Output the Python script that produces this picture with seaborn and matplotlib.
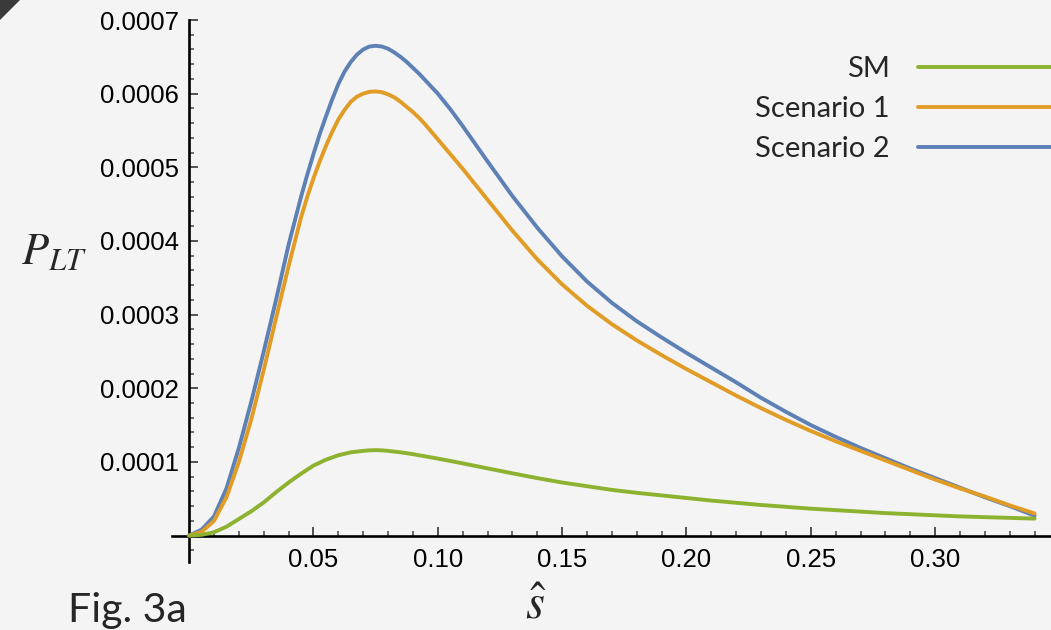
import numpy as np
import pandas as pd
import matplotlib
matplotlib.use("Agg")
import matplotlib.pyplot as plt
from matplotlib.patches import Polygon
from matplotlib.ticker import FixedLocator, MultipleLocator, FormatStrFormatter
import seaborn as sns

# ---- data ----
s_hat = [0, 0.005, 0.01, 0.015, 0.02, 0.025, 0.03, 0.035, 0.04, 0.045,
         0.0475, 0.05, 0.0525, 0.055, 0.0575, 0.06, 0.0625, 0.065, 0.0675,
         0.07, 0.0725, 0.075, 0.0775, 0.08, 0.0825, 0.085, 0.0875, 0.09,
         0.0925, 0.095, 0.0975, 0.10, 0.105, 0.11, 0.12, 0.13, 0.14, 0.15,
         0.16, 0.17, 0.18, 0.19, 0.20, 0.21, 0.22, 0.23, 0.24, 0.25, 0.26,
         0.27, 0.28, 0.29, 0.30, 0.31, 0.32, 0.33, 0.34]

# values in units of 1e-4
p_sm = [0, 0.01, 0.045, 0.12, 0.225, 0.33, 0.45, 0.59, 0.72, 0.84,
        0.895, 0.95, 0.99, 1.03, 1.06, 1.09, 1.11, 1.13, 1.14,
        1.15, 1.157, 1.16, 1.157, 1.15, 1.14, 1.13, 1.118, 1.105,
        1.09, 1.075, 1.06, 1.045, 1.013, 0.98, 0.912, 0.845, 0.78, 0.72,
        0.67, 0.62, 0.58, 0.545, 0.51, 0.475, 0.445, 0.415, 0.39, 0.365, 0.345,
        0.325, 0.305, 0.29, 0.275, 0.26, 0.25, 0.24, 0.23]
p_sc1 = [0, 0.05, 0.20, 0.52, 1.00, 1.58, 2.25, 2.96, 3.66, 4.32,
         4.60, 4.85, 5.08, 5.29, 5.48, 5.65, 5.78, 5.89, 5.96,
         6.00, 6.025, 6.03, 6.02, 5.99, 5.95, 5.89, 5.82, 5.75,
         5.67, 5.58, 5.48, 5.38, 5.18, 4.98, 4.56, 4.14, 3.75, 3.41,
         3.12, 2.87, 2.65, 2.45, 2.26, 2.08, 1.90, 1.73, 1.57, 1.42, 1.28,
         1.15, 1.02, 0.89, 0.76, 0.64, 0.53, 0.41, 0.30]
p_sc2 = [0, 0.08, 0.26, 0.64, 1.19, 1.82, 2.50, 3.21, 3.95, 4.60,
         4.90, 5.18, 5.45, 5.69, 5.92, 6.13, 6.30, 6.43, 6.53,
         6.60, 6.64, 6.65, 6.64, 6.61, 6.56, 6.50, 6.43, 6.35,
         6.27, 6.18, 6.09, 6.00, 5.79, 5.56, 5.08, 4.61, 4.18, 3.79,
         3.45, 3.16, 2.91, 2.69, 2.48, 2.28, 2.08, 1.87, 1.68, 1.50, 1.34,
         1.19, 1.05, 0.91, 0.78, 0.65, 0.52, 0.40, 0.27]

series_names = ["SM", "Scenario 1", "Scenario 2"]
x_major_ticks = [0.05, 0.10, 0.15, 0.20, 0.25, 0.30]
y_major_ticks = [0.0001, 0.0002, 0.0003, 0.0004, 0.0005, 0.0006, 0.0007]
value_scale = 1e-4

colors = {"SM": "#8DB22F", "Scenario 1": "#E09C24", "Scenario 2": "#5E81B5"}

df = pd.DataFrame({
    "s": s_hat * 3,
    "P": [v * value_scale for v in p_sm + p_sc1 + p_sc2],
    "series": [n for n in series_names for _ in s_hat],
})

sns.set_theme(style="white")
plt.rcParams["font.family"] = ["Liberation Sans", "DejaVu Sans"]
plt.rcParams["mathtext.fontset"] = "stix"

bg = "#f4f4f4"
fig = plt.figure(figsize=(10.51, 6.30), dpi=100, facecolor=bg)
ax = fig.add_axes([172 / 1051, (630 - 561.7) / 630, (1051 - 172) / 1051, (561.7 - 20) / 630])
ax.set_facecolor("none")

# draw order: blue, orange, green (later on top)
for name in ["Scenario 2", "Scenario 1", "SM"]:
    sns.lineplot(data=df[df["series"] == name], x="s", y="P", color=colors[name],
                 lw=2.8, ax=ax, legend=False, sort=False, label=name)

ax.set_xlim(-0.0069, 0.3466)
ax.set_ylim(-0.0000355, 0.0007)

for side in ["top", "right"]:
    ax.spines[side].set_visible(False)
ax.spines["left"].set_position(("data", 0))
ax.spines["bottom"].set_position(("data", 0))
for side in ["left", "bottom"]:
    ax.spines[side].set_linewidth(1.9)
    ax.spines[side].set_color("black")
    ax.spines[side].set_zorder(1)

ax.xaxis.set_major_locator(FixedLocator(x_major_ticks))
ax.xaxis.set_minor_locator(MultipleLocator(0.01))
ax.xaxis.set_major_formatter(FormatStrFormatter("%.2f"))
ax.yaxis.set_major_locator(FixedLocator(y_major_ticks))
ax.yaxis.set_minor_locator(MultipleLocator(0.00002))
ax.yaxis.set_major_formatter(FormatStrFormatter("%.4f"))

ax.tick_params(axis="both", which="major", direction="in", length=6.2, width=1.3,
               color="#444444", labelsize=18.5, labelcolor="black")
ax.tick_params(axis="both", which="minor", direction="in", length=3.8, width=1.2,
               color="#555555")
ax.tick_params(axis="x", which="major", pad=9)
ax.tick_params(axis="y", which="major", pad=7.5)
ax.tick_params(axis="both", which="both", bottom=True, left=True, top=False, right=False)

ax.set_xlabel(r"$\hat{s}$", fontsize=35)
ax.xaxis.set_label_coords((536 - 172) / 879, (561.7 - 606) / 541.7)
ax.xaxis.label.set_va("center")
ax.set_ylabel(r"$P_{LT}$", fontsize=32, rotation=0)
ax.yaxis.set_label_coords((54 - 172) / 879, (561.7 - 252) / 541.7)
ax.yaxis.label.set_va("center")
ax.yaxis.label.set_ha("center")

lines = ax.get_lines()
handle_map = {ln.get_label(): ln for ln in lines}
leg = ax.legend([handle_map[n] for n in series_names], series_names,
                loc="upper right", bbox_to_anchor=(1.0, 0.934), frameon=False,
                markerfirst=False, handlelength=4.57, handletextpad=0.95,
                labelspacing=0.48, borderpad=0, borderaxespad=0,
                prop={"family": ["Lato", "DejaVu Sans"], "size": 21})

fig.text(68 / 1051, 1 - 621.7 / 630, "Fig. 3a", fontsize=29.5, va="baseline", ha="left",
         family=["Lato", "DejaVu Sans"])

fig.patches.append(Polygon([(0, 1), (20 / 1051, 1), (0, 1 - 20 / 630)], closed=True,
                           transform=fig.transFigure, facecolor="#3a3a3a", edgecolor="none"))

fig.savefig("out.png", dpi=100, facecolor=bg)
